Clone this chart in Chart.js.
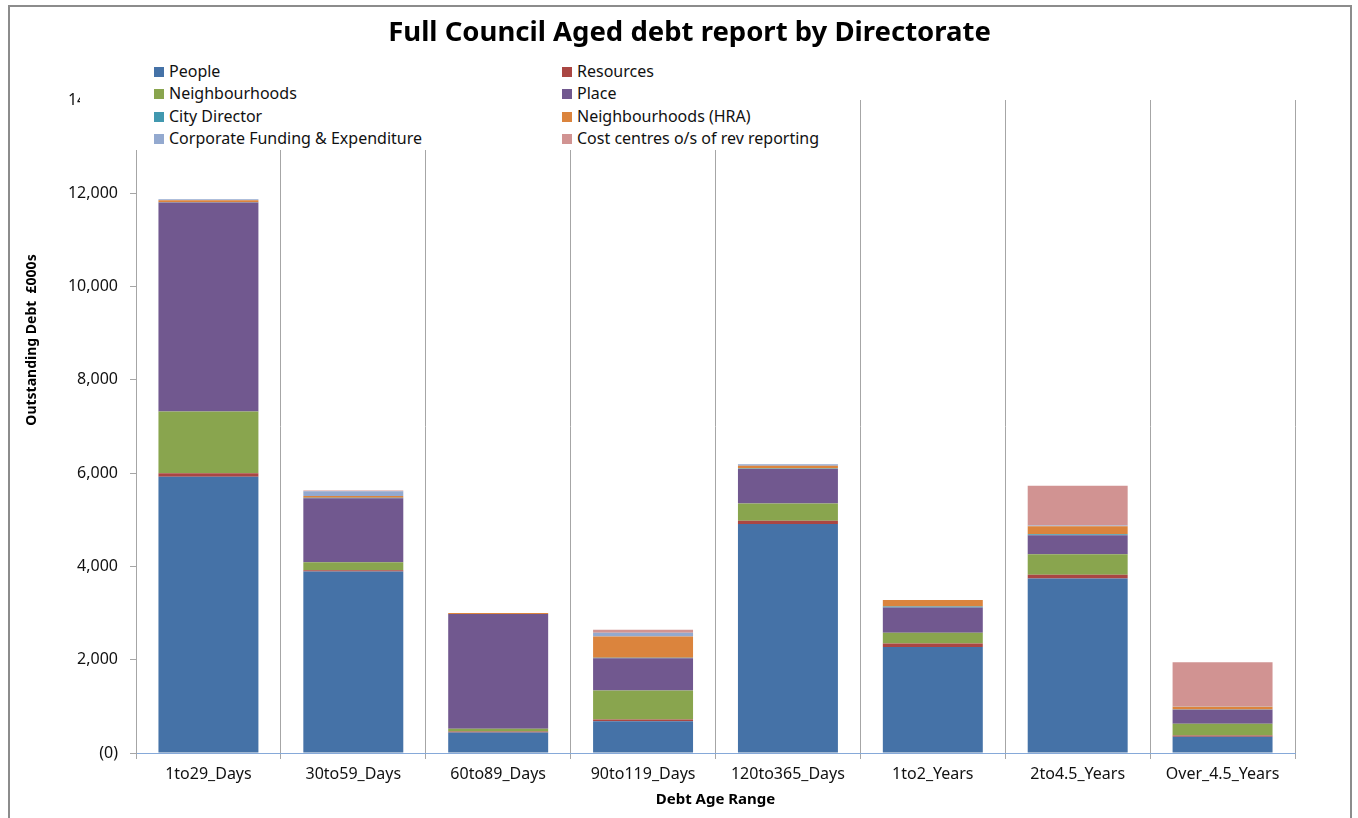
<!DOCTYPE html>
<html>
<head>
<meta charset="utf-8">
<script src="https://cdn.jsdelivr.net/npm/chart.js@4/dist/chart.umd.min.js"></script>
<style>
  body { margin: 0; background: #fff; }
  #wrap { position: relative; width: 1358px; height: 818px; overflow: hidden; }
  #frame { position: absolute; left: 8px; top: 5px; width: 1340px; height: 830px; border: 2px solid #8c8c8c; pointer-events: none; }
  #title { position: absolute; left: 689.5px; top: 30px; transform: translate(-50%, -50%);
           font-family: 'Noto Sans', sans-serif; font-weight: bold; font-size: 27.5px; white-space: nowrap; color: #000; }
  #legend { position: absolute; left: 80px; top: 58px; width: 775px; height: 92px; background: #fff;
            font-family: 'Noto Sans', sans-serif; font-size: 16px; color: #111; }
  .item { position: absolute; white-space: nowrap; line-height: 20px; }
  .item i { display: inline-block; width: 10px; height: 10px; margin-right: 5px; vertical-align: 0px; }
  #ytitle { position: absolute; left: 30px; top: 340px; transform: translate(-50%, -50%) rotate(-90deg);
            font-family: 'Noto Sans', sans-serif; font-weight: bold; font-size: 14px; white-space: nowrap; color: #000; }
</style>
</head>
<body>
<div id="wrap">
  <canvas id="chart" width="1358" height="818"></canvas>
  <div id="title">Full Council Aged debt report by Directorate</div>
  <div id="legend"></div>
  <div id="ytitle">Outstanding Debt &nbsp;£000s</div>
  <div id="frame"></div>
</div>
<script>
const categories = ['1to29_Days', '30to59_Days', '60to89_Days', '90to119_Days', '120to365_Days', '1to2_Years', '2to4.5_Years', 'Over_4.5_Years'];

const people            = [5920, 3890, 440, 680, 4910, 2270, 3740, 350];
const resources         = [80, 30, 20, 40, 70, 80, 80, 25];
const neighbourhoods    = [1320, 170, 60, 620, 370, 230, 440, 250];
const place             = [4480, 1370, 2460, 690, 740, 540, 410, 300];
const cityDirector      = [10, 10, 0, 10, 10, 20, 20, 5];
const neighbourhoodsHra = [40, 40, 20, 460, 60, 140, 170, 60];
const corporate         = [20, 100, 0, 80, 30, 0, 20, 5];
const costCentres       = [0, 20, 0, 60, 0, 0, 850, 950];

const series = [
  ['People', people, '#4572A7'],
  ['Resources', resources, '#AA4643'],
  ['Neighbourhoods', neighbourhoods, '#89A54E'],
  ['Place', place, '#71588F'],
  ['City Director', cityDirector, '#4198AF'],
  ['Neighbourhoods (HRA)', neighbourhoodsHra, '#DB843D'],
  ['Corporate Funding & Expenditure', corporate, '#93A9CF'],
  ['Cost centres o/s of rev reporting', costCentres, '#D19392']
];

const datasets = series.map(([label, data, color]) => ({
  label: label,
  data: data,
  backgroundColor: color,
  borderWidth: 0,
  barPercentage: 0.69,
  categoryPercentage: 1
}));

const font = 'Noto Sans';

new Chart(document.getElementById('chart'), {
  type: 'bar',
  data: { labels: categories, datasets: datasets },
  options: {
    responsive: false,
    animation: false,
    layout: { padding: { left: 60, right: 63, top: 100, bottom: 0 } },
    plugins: {
      legend: { display: false },
      tooltip: { enabled: false }
    },
    scales: {
      x: {
        stacked: true,
        grid: { color: '#a6a6a6', tickLength: 6, offset: true, tickColor: '#a6a6a6' },
        border: { color: '#86A9D9', width: 1 },
        ticks: { color: '#111', font: { family: font, size: 16 }, padding: 6, maxRotation: 0 },
        title: { display: true, text: 'Debt Age Range', color: '#000', font: { family: font, size: 15, weight: 'bold' }, padding: { top: 0, bottom: 9 } },
        afterFit: s => { s.height = 65; }
      },
      y: {
        stacked: true,
        min: 0,
        max: 14000,
        ticks: {
          stepSize: 2000,
          color: '#111',
          font: { family: font, size: 16 },
          padding: 12,
          callback: v => v === 0 ? '(0)' : v.toLocaleString('en-GB')
        },
        grid: { drawOnChartArea: false, tickLength: 6, color: '#a6a6a6' },
        border: { color: '#a6a6a6', width: 1 },
        afterFit: s => { s.width = 76; }
      }
    }
  }
});

// two-column legend like the original
const legend = document.getElementById('legend');
const colX = [74, 482];
const rowY = [3, 25, 48, 70];
series.forEach(([label, data, color], i) => {
  const el = document.createElement('div');
  el.className = 'item';
  el.style.left = colX[i % 2] + 'px';
  el.style.top = rowY[Math.floor(i / 2)] + 'px';
  el.innerHTML = '<i style="background:' + color + '"></i>';
  el.appendChild(document.createTextNode(label));
  legend.appendChild(el);
});
</script>
</body>
</html>
